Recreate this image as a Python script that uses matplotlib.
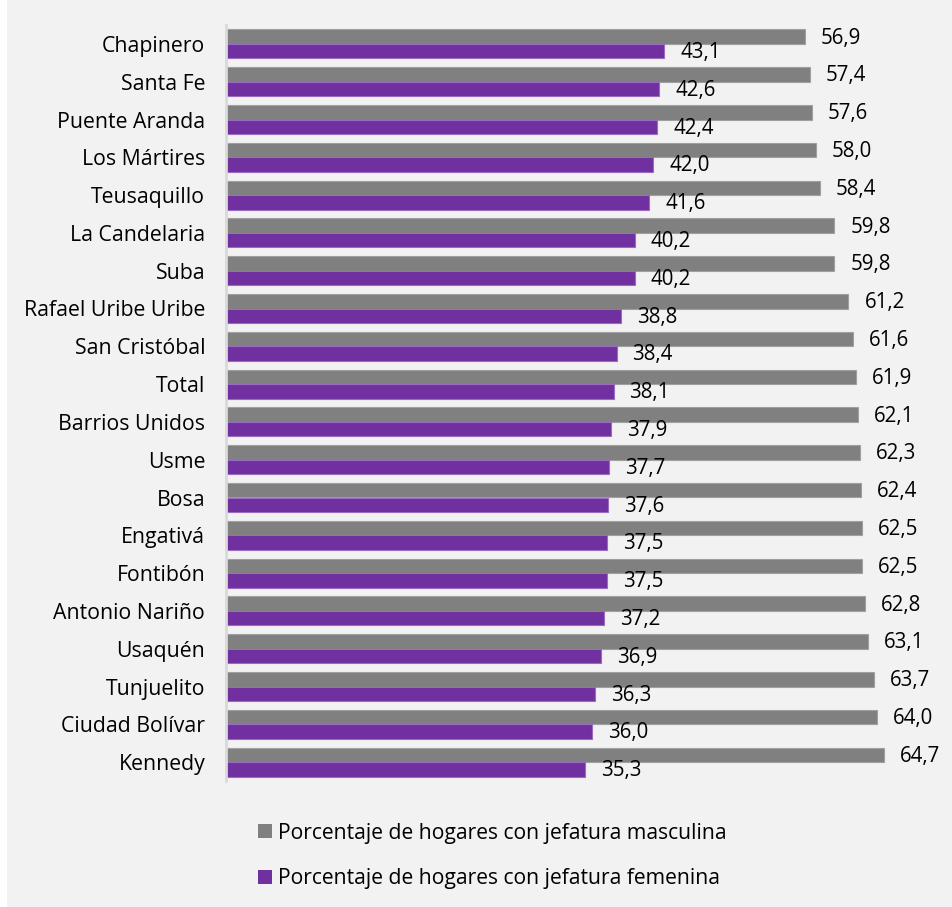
import matplotlib
matplotlib.use("Agg")
import matplotlib.pyplot as plt
import numpy as np
from matplotlib.patches import Patch

plt.rcParams['font.family'] = ['Open Sans', 'DejaVu Sans']

localidades = ["Chapinero", "Santa Fe", "Puente Aranda", "Los Mártires", "Teusaquillo",
               "La Candelaria", "Suba", "Rafael Uribe Uribe", "San Cristóbal", "Total",
               "Barrios Unidos", "Usme", "Bosa", "Engativá", "Fontibón",
               "Antonio Nariño", "Usaquén", "Tunjuelito", "Ciudad Bolívar", "Kennedy"]
masculina = [56.9, 57.4, 57.6, 58.0, 58.4, 59.8, 59.8, 61.2, 61.6, 61.9,
             62.1, 62.3, 62.4, 62.5, 62.5, 62.8, 63.1, 63.7, 64.0, 64.7]
femenina = [43.1, 42.6, 42.4, 42.0, 41.6, 40.2, 40.2, 38.8, 38.4, 38.1,
            37.9, 37.7, 37.6, 37.5, 37.5, 37.2, 36.9, 36.3, 36.0, 35.3]
series_labels = ["Porcentaje de hogares con jefatura masculina",
                 "Porcentaje de hogares con jefatura femenina"]

c_gray = "#808080"
c_purple = "#7030a0"
bg = "#f2f2f2"

fig = plt.figure(figsize=(9.52, 9.07), dpi=100)
fig.patch.set_facecolor(bg)
# white strip on left edge
fig.patches.append(plt.Rectangle((0, 0), 7/952, 1, transform=fig.transFigure,
                                 facecolor="white", edgecolor="none", zorder=-1))

ax = fig.add_axes([226/952, 1 - 781/907, (938 - 226)/952, (781 - 25)/907])
ax.set_facecolor(bg)

y = np.arange(len(localidades))
h = 0.385
b1 = ax.barh(y - h/2, masculina, height=h, color=c_gray, edgecolor="#a0a0a0", linewidth=0.8)
b2 = ax.barh(y + h/2, femenina, height=h, color=c_purple, edgecolor="#9a6cc0", linewidth=0.8)

fs = 14.8
for rect, v in zip(b1, masculina):
    ax.annotate(f"{v:.1f}".replace(".", ","), xy=(rect.get_width(), rect.get_y() + rect.get_height()/2),
                xytext=(11.5, -1), textcoords="offset points", ha="left", va="center", fontsize=fs, color="black")
for rect, v in zip(b2, femenina):
    ax.annotate(f"{v:.1f}".replace(".", ","), xy=(rect.get_width(), rect.get_y() + rect.get_height()/2),
                xytext=(11.5, -1), textcoords="offset points", ha="left", va="center", fontsize=fs, color="black")

ax.set_xlim(0, 70)
ax.set_ylim(len(localidades) - 0.5, -0.5)
ax.set_yticks(y)
ax.set_yticklabels(localidades, fontsize=15.3)
ax.tick_params(axis="y", length=0, pad=15)
ax.set_xticks([])
for s in ["top", "right", "bottom"]:
    ax.spines[s].set_visible(False)
ax.spines["left"].set_color("#d9d9d9")
ax.spines["left"].set_linewidth(2)

handles = [Patch(facecolor=c_gray, edgecolor="none"), Patch(facecolor=c_purple, edgecolor="none")]
fig.legend(handles, series_labels, loc="center left", bbox_to_anchor=(258/952, 1 - 856/907),
           frameon=False, fontsize=15.2, handlelength=0.65, handleheight=0.65, handletextpad=0.3,
           labelspacing=1.15, borderaxespad=0, borderpad=0)

fig.savefig("out.png", dpi=100, facecolor=bg)
